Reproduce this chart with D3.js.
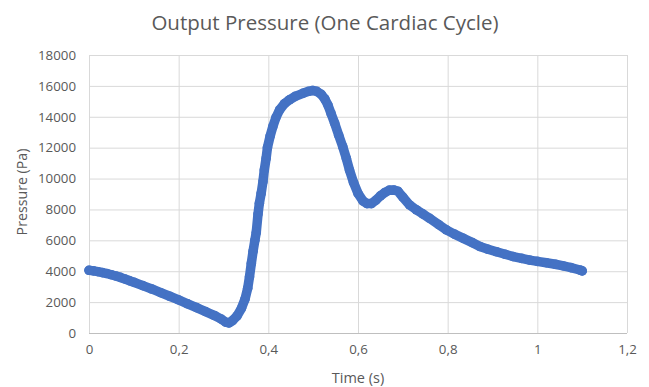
<!DOCTYPE html>
<html>
<head>
<meta charset="utf-8">
<script src="https://cdn.jsdelivr.net/npm/d3@7"></script>
<style>
  html, body { margin: 0; padding: 0; background: #fff; }
  svg { display: block; }
</style>
</head>
<body>
<svg id="chart" width="649" height="387"></svg>
<script>
const chartTitle = "Output Pressure (One Cardiac Cycle)";
const xTitle = "Time (s)";
const yTitle = "Pressure (Pa)";
const xTicks = [0, 0.2, 0.4, 0.6, 0.8, 1, 1.2];
const yTicks = [0, 2000, 4000, 6000, 8000, 10000, 12000, 14000, 16000, 18000];

const timeS = [
  0, 0.01, 0.02, 0.03, 0.04, 0.05, 0.06, 0.07, 0.08, 0.09,
  0.10, 0.12, 0.14, 0.16, 0.18, 0.20, 0.22, 0.24, 0.26, 0.28,
  0.295, 0.305, 0.312, 0.32, 0.33, 0.34, 0.348, 0.354, 0.358, 0.362,
  0.366, 0.370, 0.373, 0.377, 0.380, 0.384, 0.388, 0.391, 0.395, 0.398,
  0.404, 0.410, 0.417, 0.425, 0.436, 0.447, 0.46, 0.477, 0.49, 0.499,
  0.508, 0.518, 0.526, 0.533, 0.540, 0.548, 0.557, 0.566, 0.574, 0.581,
  0.590, 0.600, 0.611, 0.620, 0.630, 0.640, 0.650, 0.660, 0.670, 0.680,
  0.689, 0.700, 0.715, 0.73, 0.745, 0.76, 0.78, 0.797, 0.815, 0.835,
  0.855, 0.872, 0.89, 0.909, 0.928, 0.946, 0.965, 0.983, 1.00, 1.02,
  1.04, 1.058, 1.075, 1.095, 1.10
];
const pressurePa = [
  4060, 4020, 3970, 3910, 3850, 3770, 3690, 3600, 3500, 3390,
  3290, 3070, 2850, 2610, 2380, 2140, 1890, 1640, 1390, 1130,
  900, 700, 650, 800, 1100, 1600, 2200, 2900, 3640, 4500,
  5300, 6000, 6500, 7700, 8400, 9040, 9800, 10550, 11300, 12000,
  12750, 13360, 13950, 14440, 14850, 15100, 15320, 15520, 15650, 15700,
  15650, 15450, 15150, 14750, 14200, 13580, 12800, 12060, 11300, 10550,
  9750, 9040, 8550, 8380, 8380, 8600, 8880, 9100, 9250, 9260,
  9180, 8800, 8290, 7980, 7700, 7420, 7020, 6680, 6400, 6130,
  5850, 5600, 5420, 5260, 5100, 4950, 4830, 4720, 4640, 4550,
  4450, 4340, 4230, 4080, 4020
];

const series = timeS.map((t, i) => ({ t: t, p: pressurePa[i] }));

const svg = d3.select("#chart");
const font = "'Open Sans', 'Noto Sans', sans-serif";
const textColor = "#595959";

const margin = { left: 89, right: 22, top: 55, bottom: 54 };
const W = 649, H = 387;

const x = d3.scaleLinear().domain([0, 1.2]).range([margin.left, W - margin.right]);
const y = d3.scaleLinear().domain([0, 18000]).range([H - margin.bottom, margin.top]);

const fmtX = d => d3.format("~g")(d).replace(".", ",");

// vertical gridlines + x tick labels
svg.append("g")
  .attr("transform", `translate(0,${H - margin.bottom})`)
  .call(d3.axisBottom(x).tickValues(xTicks).tickSize(-(H - margin.bottom - margin.top)).tickFormat(fmtX).tickPadding(12))
  .call(g => g.select(".domain").remove())
  .call(g => g.selectAll(".tick line").attr("stroke", "#d9d9d9").attr("stroke-width", 1))
  .call(g => g.selectAll(".tick text").attr("fill", textColor).style("font-family", font).style("font-size", "13.3px"));

// horizontal gridlines + y tick labels
svg.append("g")
  .attr("transform", `translate(${margin.left},0)`)
  .call(d3.axisLeft(y).tickValues(yTicks).tickSize(-(W - margin.right - margin.left)).tickFormat(d3.format("d")).tickPadding(13))
  .call(g => g.select(".domain").remove())
  .call(g => g.selectAll(".tick line").attr("stroke", "#d9d9d9").attr("stroke-width", 1))
  .call(g => g.selectAll(".tick text").attr("fill", textColor).style("font-family", font).style("font-size", "13.3px"));

// bottom axis line
svg.append("line")
  .attr("x1", margin.left).attr("x2", W - margin.right)
  .attr("y1", y(0) + 0.5).attr("y2", y(0) + 0.5)
  .attr("stroke", "#bfbfbf").attr("stroke-width", 1);

// series: dense markers forming a thick line
const color = "#4472C4";
svg.append("path")
  .datum(series)
  .attr("fill", "none")
  .attr("stroke", color)
  .attr("stroke-width", 9.5)
  .attr("stroke-linejoin", "round")
  .attr("stroke-linecap", "round")
  .attr("d", d3.line().x(d => x(d.t)).y(d => y(d.p)));

svg.append("g").selectAll("circle")
  .data(series)
  .join("circle")
  .attr("cx", d => x(d.t))
  .attr("cy", d => y(d.p))
  .attr("r", 4.8)
  .attr("fill", color);

// titles
svg.append("text")
  .attr("x", 325).attr("y", 30)
  .attr("text-anchor", "middle")
  .attr("fill", textColor)
  .style("font-family", font).style("font-size", "20.5px")
  .text(chartTitle);

svg.append("text")
  .attr("x", 358).attr("y", 383)
  .attr("text-anchor", "middle")
  .attr("fill", textColor)
  .style("font-family", font).style("font-size", "14.5px")
  .text(xTitle);

svg.append("text")
  .attr("transform", `translate(27,${(y(0) + y(18000)) / 2 - 2}) rotate(-90)`)
  .attr("text-anchor", "middle")
  .attr("fill", textColor)
  .style("font-family", font).style("font-size", "14.2px")
  .text(yTitle);
</script>
</body>
</html>
